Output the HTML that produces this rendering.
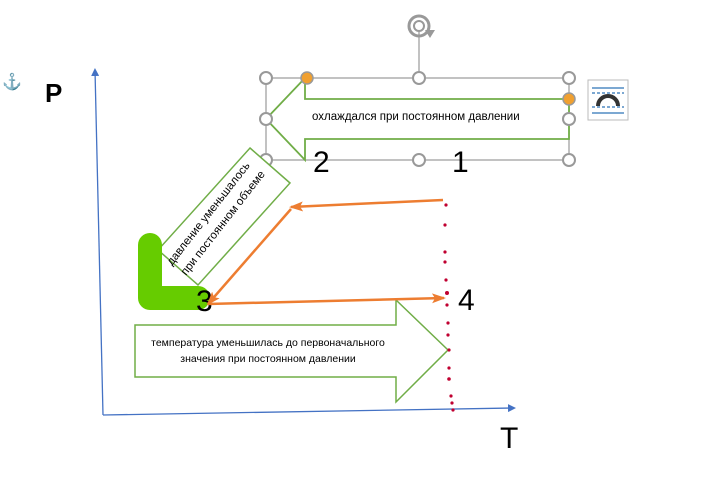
<!DOCTYPE html>
<html><head><meta charset="utf-8"><style>
body{margin:0;background:#fff;width:712px;height:483px;overflow:hidden}
svg{display:block}
text{font-family:"Liberation Sans",sans-serif}
</style></head><body>
<svg width="712" height="483" viewBox="0 0 712 483">
<defs>
<marker id="ob" markerWidth="8" markerHeight="8" refX="6" refY="4" orient="auto" markerUnits="userSpaceOnUse"><path d="M0,0 L8,4 L0,8 Z" fill="#4472c4"/></marker>
<marker id="oa" markerWidth="14" markerHeight="10" refX="12" refY="5" orient="auto" markerUnits="userSpaceOnUse"><path d="M0,0 L14,5 L0,10 L3,5 Z" fill="#ed7d31"/></marker>
</defs>
<text x="2" y="87" font-size="16" fill="#2e75b6">⚓</text>
<text x="45" y="102" font-size="26" font-weight="bold">P</text>
<text x="500" y="448" font-size="30">T</text>
<line x1="103" y1="415" x2="95" y2="70" stroke="#4472c4" stroke-width="1.3" marker-end="url(#ob)"/>
<line x1="103" y1="415" x2="514" y2="408" stroke="#4472c4" stroke-width="1.3" marker-end="url(#ob)"/>
<line x1="419" y1="30" x2="419" y2="78" stroke="#999" stroke-width="1.2"/>
<rect x="266" y="78" width="303" height="82" fill="none" stroke="#999" stroke-width="1.2"/>
<polygon points="266,119 305,78 305,99 569,99 569,139 305,139 305,160" fill="#fff" stroke="#70ad47" stroke-width="1.8"/>
<text x="312" y="120" font-size="11.5">охлаждался при постоянном давлении</text>
<g fill="#fff" stroke="#999" stroke-width="2">
<circle cx="266" cy="78" r="6"/><circle cx="419" cy="78" r="6"/><circle cx="569" cy="78" r="6"/>
<circle cx="266" cy="119" r="6"/><circle cx="569" cy="119" r="6"/>
<circle cx="266" cy="160" r="6"/><circle cx="419" cy="160" r="6"/><circle cx="569" cy="160" r="6"/>
</g>
<circle cx="307" cy="78" r="6" fill="#f0a030" stroke="#999" stroke-width="1.5"/>
<circle cx="569" cy="99" r="6" fill="#f0a030" stroke="#999" stroke-width="1.5"/>
<circle cx="419" cy="26" r="10" fill="none" stroke="#999" stroke-width="3"/>
<circle cx="419" cy="26" r="5" fill="none" stroke="#999" stroke-width="2"/>
<path d="M425,30 L435,30 L430,38 Z" fill="#999"/>
<rect x="588" y="80" width="40" height="40" fill="#fff" stroke="#bbb"/>
<g stroke="#2e75b6" stroke-width="1.3">
<line x1="592" y1="88" x2="624" y2="88"/>
<line x1="592" y1="93" x2="624" y2="93" stroke-dasharray="3,2"/>
<line x1="592" y1="107" x2="624" y2="107" stroke-dasharray="3,2"/>
<line x1="592" y1="113" x2="624" y2="113"/>
</g>
<path d="M598,106 A10,10 0 0 1 618,106" fill="none" stroke="#333" stroke-width="4"/>
<text x="313" y="172" font-size="30">2</text>
<text x="452" y="172" font-size="30">1</text>
<polygon points="250,148 290,183 198,285 158,250" fill="#fff" stroke="#70ad47" stroke-width="1.5"/>
<text transform="translate(172,266) rotate(-52)" font-size="11.5">давление уменьшалось</text>
<text transform="translate(186,276) rotate(-52)" font-size="11.5">при постоянном объеме</text>
<path d="M150,245 L150,298 L198,298" fill="none" stroke="#66cc00" stroke-width="24" stroke-linecap="round" stroke-linejoin="round"/>
<text x="196" y="311" font-size="30">3</text>
<polygon points="135,325 396,325 396,300 448,350 396,402 396,377 135,377" fill="#fff" stroke="#70ad47" stroke-width="1.5"/>
<text x="268" y="346" font-size="10.5" text-anchor="middle">температура уменьшилась до первоначального</text>
<text x="268" y="362" font-size="10.5" text-anchor="middle">значения при постоянном давлении</text>
<g stroke="#ed7d31" stroke-width="2.5" fill="none">
<line x1="443" y1="200" x2="291" y2="207" marker-end="url(#oa)"/>
<line x1="291" y1="209" x2="208" y2="304" marker-end="url(#oa)"/>
<line x1="208" y1="304" x2="444" y2="298" marker-end="url(#oa)"/>
</g>
<text x="458" y="310" font-size="30">4</text>
<g fill="#c00030">
<circle cx="446" cy="205" r="1.6"/><circle cx="445" cy="225" r="1.6"/><circle cx="445" cy="252" r="1.6"/><circle cx="445" cy="262" r="1.6"/>
<circle cx="446" cy="280" r="1.6"/><circle cx="447" cy="293" r="2"/><circle cx="447" cy="305" r="1.6"/><circle cx="448" cy="323" r="1.6"/>
<circle cx="448" cy="335" r="1.6"/><circle cx="449" cy="350" r="1.6"/><circle cx="449" cy="368" r="1.6"/><circle cx="449" cy="379" r="1.8"/>
<circle cx="451" cy="396" r="1.6"/><circle cx="452" cy="403" r="1.6"/><circle cx="453" cy="410" r="1.6"/>
</g>
</svg>
</body></html>
